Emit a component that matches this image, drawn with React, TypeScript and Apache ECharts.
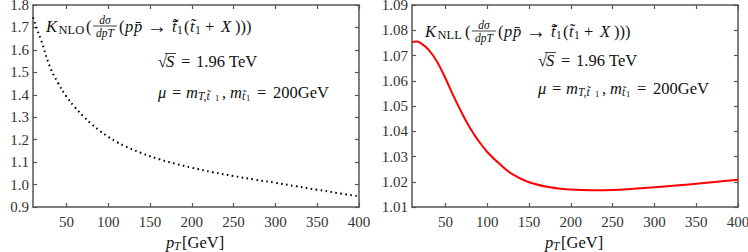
import React, { useEffect, useRef } from "react";
import * as echarts from "echarts";

// ---- data ----
const nloPt = [10, 15, 20, 30, 40, 50, 60, 70, 80, 90, 100, 110, 120, 140, 160, 180, 200, 225, 250, 275, 300, 325, 350, 375, 400];
const nloK = [1.745, 1.69, 1.64, 1.527, 1.452, 1.392, 1.345, 1.305, 1.27, 1.239, 1.213, 1.19, 1.171, 1.14, 1.114, 1.093, 1.075, 1.055, 1.038, 1.022, 1.008, 0.992, 0.977, 0.962, 0.948];
const nllPt = [10, 15, 20, 30, 40, 50, 60, 70, 80, 90, 100, 115, 130, 150, 175, 200, 225, 250, 275, 300, 325, 350, 375, 400];
const nllK = [1.0753, 1.0755, 1.075, 1.0722, 1.0675, 1.061, 1.0537, 1.047, 1.041, 1.036, 1.0318, 1.027, 1.023, 1.0198, 1.0178, 1.0169, 1.0166, 1.0167, 1.0172, 1.0178, 1.0185, 1.0192, 1.02, 1.0208];
const xTicks = [50, 100, 150, 200, 250, 300, 350, 400];
const leftY = { min: 0.9, max: 1.8, interval: 0.1, digits: 1 };
const rightY = { min: 1.01, max: 1.09, interval: 0.01, digits: 2 };

const TICKFONT = "Liberation Serif";
const FONT = "Liberation Serif";
const INK = "#111";
const AXIS = "#555";
const MAIN = 16.5;

type Piece = { t: string; dx: number; size?: number; it?: boolean; dy?: number; over?: number; frac?: [string, string]; w?: number };

function textEl(t: string, x: number, y: number, size: number, it: boolean, align = "left") {
  return {
    type: "text",
    x,
    y,
    silent: true,
    style: { text: t, fontSize: size, fontFamily: FONT, fontStyle: it ? "italic" : "normal", fill: INK, align, verticalAlign: "middle" },
  };
}

function buildLine(pieces: Piece[], x0: number, y: number) {
  const els: any[] = [];
  pieces.forEach((p) => {
    const s = p.size ?? MAIN;
    const x = x0 + p.dx;
    const yy = y + (p.dy ?? 0);
    if (p.frac) {
      const w = p.w ?? 20;
      els.push(textEl(p.frac[0], x + w / 2, yy - 6.5, s, true, "center"));
      els.push(textEl(p.frac[1], x + w / 2, yy + 6.5, s, true, "center"));
      els.push({ type: "line", silent: true, shape: { x1: x, y1: yy, x2: x + w, y2: yy }, style: { stroke: INK, lineWidth: 0.8 } });
    } else {
      els.push(textEl(p.t, x, yy, s, !!p.it));
      if (p.over) {
        els.push({ type: "line", silent: true, shape: { x1: x - 1, y1: yy - 7.5, x2: x + p.over, y2: yy - 7.5 }, style: { stroke: INK, lineWidth: 0.8 } });
      }
    }
  });
  return els;
}

function kLine(sub: string): Piece[] {
  return [
    { t: "K", dx: 0, it: true },
    { t: sub, dx: 12.5, size: 12.5, dy: 4 },
    { t: "(", dx: 40 },
    { t: "", dx: 47, size: 11.5, frac: ["dσ", "dpT"], w: 24 },
    { t: "(", dx: 73 },
    { t: "p", dx: 79, it: true },
    { t: "p̄", dx: 88, it: true },
    { t: "→", dx: 101, size: 20 },
    { t: "t̃̄", dx: 126, it: true },
    { t: "1", dx: 131, size: 11.5, dy: 4 },
    { t: "(", dx: 138 },
    { t: "t̃", dx: 144, it: true },
    { t: "1", dx: 149, size: 11.5, dy: 4 },
    { t: "+", dx: 159 },
    { t: "X", dx: 175, it: true },
    { t: ")))", dx: 189 },
  ];
}
const sLine: Piece[] = [
  { t: "√", dx: 0 },
  { t: "S", dx: 8, it: true, over: 10 },
  { t: "=", dx: 23 },
  { t: "1.96", dx: 38 },
  { t: "TeV", dx: 71 },
];
const muLine: Piece[] = [
  { t: "μ", dx: 0, it: true },
  { t: "=", dx: 14 },
  { t: "m", dx: 28, it: true },
  { t: "T,t̃", dx: 40, size: 11.5, it: true, dy: 4 },
  { t: "1", dx: 57, size: 8.5, dy: 6 },
  { t: ",", dx: 64 },
  { t: "m", dx: 72, it: true },
  { t: "t̃", dx: 84, size: 11.5, it: true, dy: 4 },
  { t: "1", dx: 88, size: 8.5, dy: 6 },
  { t: "=", dx: 99 },
  { t: "200GeV", dx: 115 },
];
const ptLine: Piece[] = [
  { t: "p", dx: 0, size: 16.5, it: true },
  { t: "T", dx: 8, size: 11.5, it: true, dy: 4 },
  { t: "[GeV]", dx: 16, size: 16.5 },
];

function xAxes(gridIndex: number) {
  const base = {
    type: "value",
    gridIndex,
    min: 10,
    max: 400,
    splitLine: { show: false },
    axisLine: { show: true, onZero: false, lineStyle: { color: AXIS, width: 1.5 } },
    axisTick: { show: true, inside: true, length: 4, customValues: xTicks, lineStyle: { color: AXIS, width: 1.2 } },
  };
  return [
    { ...base, position: "bottom", axisLabel: { show: true, customValues: xTicks, margin: 7, fontSize: 15, fontFamily: TICKFONT, color: "#333" } },
    { ...base, position: "top", axisLabel: { show: false } },
  ];
}
function yAxes(gridIndex: number, r: typeof leftY) {
  const base = {
    type: "value",
    gridIndex,
    min: r.min,
    max: r.max,
    interval: r.interval,
    splitLine: { show: false },
    axisLine: { show: true, onZero: false, lineStyle: { color: AXIS, width: 1.5 } },
    axisTick: { show: true, inside: true, length: 4, lineStyle: { color: AXIS, width: 1.2 } },
  };
  return [
    { ...base, position: "left", axisLabel: { show: true, margin: 4, fontSize: 15, fontFamily: TICKFONT, color: "#333", formatter: (v: number) => v.toFixed(r.digits) } },
    { ...base, position: "right", axisLabel: { show: false } },
  ];
}

export default function App() {
  const ref = useRef<HTMLDivElement>(null);
  useEffect(() => {
    if (!ref.current) return;
    const chart = echarts.init(ref.current, null, { renderer: "svg" });
    const graphic = [
      ...buildLine(kLine("NLO"), 46, 26),
      ...buildLine(sLine, 158, 61),
      ...buildLine(muLine, 158, 92),
      ...buildLine(kLine("NLL"), 425, 31),
      ...buildLine(sLine, 538, 60),
      ...buildLine(muLine, 538, 88),
      ...buildLine(ptLine, 166, 242),
      ...buildLine(ptLine, 545, 242),
    ];
    chart.setOption({
      animation: false,
      backgroundColor: "#fff",
      grid: [
        { left: 33, right: 389, top: 5, bottom: 45, outerBoundsMode: "none", containLabel: false },
        { left: 412, right: 10, top: 5, bottom: 45, outerBoundsMode: "none", containLabel: false },
      ],
      xAxis: [...xAxes(0), ...xAxes(1)],
      yAxis: [...yAxes(0, leftY), ...yAxes(1, rightY)],
      series: [
        {
          type: "line",
          xAxisIndex: 0,
          yAxisIndex: 0,
          data: nloPt.map((x, i) => [x, nloK[i]]),
          smooth: 0.4,
          showSymbol: false,
          lineStyle: { color: "#000", width: 2, type: [1.6, 3.4] },
        },
        {
          type: "line",
          xAxisIndex: 2,
          yAxisIndex: 2,
          data: nllPt.map((x, i) => [x, nllK[i]]),
          smooth: 0.4,
          showSymbol: false,
          lineStyle: { color: "#f00", width: 2 },
        },
      ],
      graphic,
    });
    return () => chart.dispose();
  }, []);
  return <div ref={ref} style={{ width: 748, height: 252, position: "fixed", left: 0, top: 0 }} />;
}
